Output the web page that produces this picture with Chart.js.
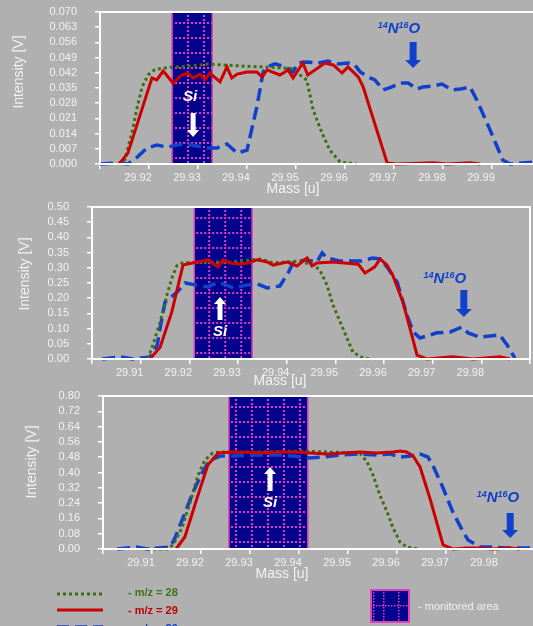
<!DOCTYPE html>
<html><head><meta charset="utf-8">
<script src="https://cdn.jsdelivr.net/npm/chart.js@4.4.0/dist/chart.umd.min.js"></script>
<style>
html,body{margin:0;padding:0;background:#b0b0b0;width:533px;height:626px;overflow:hidden;}
body{position:relative;font-family:"Liberation Sans",Arial,sans-serif;}
canvas{position:absolute;left:0;}
.t{position:absolute;color:#f2f2f2;font-size:14px;white-space:nowrap;line-height:1;}
.ty{transform:translate(-50%,-50%) rotate(-90deg);}
.tx{transform:translate(-50%,-50%);}
.lg{position:absolute;font-size:11px;font-weight:bold;white-space:nowrap;line-height:1;transform:translateY(-50%);}
</style></head><body>
<canvas id="cTop"></canvas>
<canvas id="cMid"></canvas>
<canvas id="cBot"></canvas>
<div class="t ty" style="left:18px;top:72px;">Intensity [V]</div>
<div class="t tx" style="left:293px;top:188px;">Mass [u]</div>
<div class="t ty" style="left:24px;top:274px;">Intensity [V]</div>
<div class="t tx" style="left:280px;top:380px;">Mass [u]</div>
<div class="t ty" style="left:31px;top:462px;">Intensity [V]</div>
<div class="t tx" style="left:282px;top:573px;">Mass [u]</div>
<svg style="position:absolute;left:0;top:580px;" width="533" height="60">
  <line x1="57" y1="14" x2="103" y2="14" stroke="#3d6e14" stroke-width="3" stroke-dasharray="3,3"/>
  <line x1="57" y1="30" x2="103" y2="30" stroke="#cc0000" stroke-width="3"/>
  <line x1="57" y1="47" x2="103" y2="47" stroke="#1040cc" stroke-width="3.5" stroke-dasharray="12,6"/>
</svg>
<div class="lg" style="left:128px;top:592px;color:#3f7415;">- m/z = 28</div>
<div class="lg" style="left:128px;top:610px;color:#c00000;">- m/z = 29</div>
<div class="lg" style="left:128px;top:628px;color:#1040cc;">- m/z = 30</div>
<canvas id="swatch" width="40" height="34" style="left:370px;top:589px;"></canvas>
<div class="lg" style="left:418px;top:606px;color:#f0f0f0;font-weight:normal;">- monitored area</div>
<script>
// ---------------- DATA ----------------
// Top panel
const xTicksTop = [29.91,29.92,29.93,29.94,29.95,29.96,29.97,29.98,29.99,30.00];
const xLabelsTop = ['','29.92','29.93','29.94','29.95','29.96','29.97','29.98','29.99',''];
const yTicksTop = [0,0.007,0.014,0.021,0.028,0.035,0.042,0.049,0.056,0.063,0.070];
const yLabelsTop = ['0.000','0.007','0.014','0.021','0.028','0.035','0.042','0.049','0.056','0.063','0.070'];
const mTop28 = [29.9137,29.9151,29.9165,29.9176,29.9186,29.9198,29.9212,29.9240,29.9280,29.9320,29.9360,29.9400,29.9450,29.9490,29.9522,29.9535,29.9553,29.9569,29.9590,29.9624];
const iTop28 = [0,0.002,0.0143,0.0262,0.0355,0.041,0.0435,0.0445,0.045,0.046,0.0455,0.045,0.0445,0.044,0.0387,0.0249,0.0143,0.0064,0.0009,0];
const mTop29 = [29.9139,29.9157,29.9206,29.9216,29.9229,29.9249,29.9267,29.9280,29.9290,29.9304,29.9314,29.9324,29.9345,29.9359,29.9369,29.9380,29.9400,29.9420,29.9431,29.9441,29.9451,29.9467,29.9484,29.9494,29.9514,29.9524,29.9559,29.9576,29.9594,29.9606,29.9627,29.9637,29.9686,29.9706,29.9753,29.9780,29.9808,29.9855,29.9876];
const iTop29 = [0,0.005,0.0396,0.0387,0.0428,0.0373,0.0410,0.0419,0.0396,0.0414,0.0387,0.0419,0.0378,0.0447,0.0396,0.0414,0.0424,0.0424,0.0401,0.0433,0.0424,0.0410,0.0433,0.0396,0.0465,0.0410,0.0465,0.0456,0.0419,0.0447,0.0401,0.0355,0.0005,0,0.0003,0.0006,0,0.0006,0];
const mTop30 = [29.9100,29.9139,29.9157,29.9176,29.9196,29.9216,29.9237,29.9257,29.9278,29.9298,29.9318,29.9339,29.9359,29.9380,29.9400,29.9420,29.9433,29.9441,29.9457,29.9478,29.9494,29.9504,29.9522,29.9545,29.9565,29.9586,29.9606,29.9620,29.9631,29.9647,29.9661,29.9678,29.9696,29.9712,29.9729,29.9747,29.9759,29.9780,29.9798,29.9818,29.9835,29.9855,29.9869,29.9896,29.9922,29.9937,29.9963,29.9984];
const iTop30 = [0,0.0005,0,0.0032,0.0074,0.0087,0.0078,0.0087,0.0092,0.0083,0.0074,0.0074,0.0092,0.0051,0.0064,0.0262,0.0424,0.0447,0.0461,0.0447,0.0424,0.0465,0.0470,0.0465,0.0474,0.0461,0.0465,0.0456,0.0424,0.0401,0.0387,0.0341,0.0355,0.0373,0.0373,0.0345,0.0355,0.0359,0.0368,0.0341,0.0345,0.0355,0.0295,0.0157,0.0018,0,0.0005,0.0009];
const bandTop = [29.9247,29.9329];

// Middle panel
const xTicksMid = [29.90,29.91,29.92,29.93,29.94,29.95,29.96,29.97,29.98,29.99];
const xLabelsMid = ['','29.91','29.92','29.93','29.94','29.95','29.96','29.97','29.98',''];
const yTicksMid = [0,0.05,0.10,0.15,0.20,0.25,0.30,0.35,0.40,0.45,0.50];
const yLabelsMid = ['0.00','0.05','0.10','0.15','0.20','0.25','0.30','0.35','0.40','0.45','0.50'];
const mMid28 = [29.9115,29.9125,29.9140,29.9154,29.9164,29.9175,29.9185,29.9222,29.9284,29.9345,29.9372,29.9401,29.9427,29.9454,29.9468,29.9483,29.9495,29.9510,29.9524,29.9536,29.9557,29.9575];
const iMid28 = [0,0.046,0.122,0.211,0.266,0.309,0.316,0.319,0.319,0.329,0.316,0.319,0.322,0.309,0.293,0.243,0.178,0.122,0.069,0.023,0.003,0];
const mMid29 = [29.9119,29.9140,29.9164,29.9187,29.9216,29.9238,29.9259,29.9269,29.9284,29.9304,29.9321,29.9339,29.9360,29.9372,29.9401,29.9421,29.9442,29.9452,29.9462,29.9495,29.9547,29.9561,29.9581,29.9592,29.9606,29.9618,29.9639,29.9668,29.9688,29.9740,29.9783,29.9838,29.9859];
const iMid29 = [0,0.039,0.155,0.309,0.319,0.326,0.303,0.326,0.316,0.312,0.316,0.326,0.319,0.309,0.319,0.306,0.332,0.306,0.316,0.319,0.312,0.283,0.303,0.329,0.309,0.276,0.187,0.013,0,0.007,0,0.007,0];
const mMid30 = [29.9021,29.9058,29.9084,29.9119,29.9134,29.9140,29.9150,29.9175,29.9191,29.9216,29.9238,29.9259,29.9290,29.9318,29.9339,29.9360,29.9386,29.9403,29.9413,29.9438,29.9462,29.9473,29.9483,29.9510,29.9551,29.9577,29.9592,29.9606,29.9627,29.9647,29.9660,29.9674,29.9709,29.9736,29.9760,29.9773,29.9797,29.9838,29.9853,29.9869];
const iMid30 = [0,0.007,0,0.007,0.046,0.102,0.187,0.220,0.250,0.243,0.237,0.253,0.234,0.243,0.247,0.234,0.240,0.283,0.316,0.326,0.319,0.349,0.332,0.322,0.322,0.332,0.329,0.303,0.253,0.145,0.089,0.069,0.086,0.089,0.105,0.086,0.072,0.079,0.046,0.003];
const bandMid = [29.9210,29.9329];

// Bottom panel
const xTicksBot = [29.90,29.91,29.92,29.93,29.94,29.95,29.96,29.97,29.98,29.99];
const xLabelsBot = ['','29.91','29.92','29.93','29.94','29.95','29.96','29.97','29.98',''];
const yTicksBot = [0,0.08,0.16,0.24,0.32,0.40,0.48,0.56,0.64,0.72,0.80];
const yLabelsBot = ['0.00','0.08','0.16','0.24','0.32','0.40','0.48','0.56','0.64','0.72','0.80'];
const mBot28 = [29.9090,29.9131,29.9143,29.9161,29.9178,29.9194,29.9208,29.9224,29.9239,29.9320,29.9402,29.9463,29.9524,29.9539,29.9551,29.9565,29.9580,29.9592,29.9606,29.9620,29.9643];
const iBot28 = [0,0,0.021,0.110,0.246,0.387,0.465,0.502,0.507,0.507,0.512,0.507,0.502,0.455,0.387,0.282,0.193,0.110,0.037,0.010,0];
const mBot29 = [29.9149,29.9167,29.9192,29.9214,29.9235,29.9265,29.9335,29.9355,29.9388,29.9422,29.9457,29.9490,29.9524,29.9559,29.9592,29.9606,29.9620,29.9633,29.9647,29.9667,29.9694,29.9714,29.9743,29.9769,29.9796,29.9831,29.9851];
const iBot29 = [0,0.063,0.267,0.439,0.502,0.507,0.502,0.507,0.507,0.502,0.497,0.502,0.507,0.502,0.507,0.512,0.507,0.486,0.429,0.267,0.021,0,0.005,0.005,0,0.005,0];
const mBot30 = [29.9029,29.9069,29.9090,29.9137,29.9147,29.9163,29.9184,29.9202,29.9218,29.9239,29.9265,29.9306,29.9355,29.9388,29.9422,29.9449,29.9490,29.9524,29.9559,29.9586,29.9606,29.9627,29.9647,29.9663,29.9673,29.9694,29.9714,29.9735,29.9745,29.9769,29.9796,29.9824,29.9851,29.9878];
const iBot30 = [0,0.010,0,0.010,0.058,0.162,0.298,0.397,0.465,0.486,0.486,0.492,0.492,0.486,0.476,0.481,0.492,0.497,0.492,0.497,0.481,0.486,0.497,0.481,0.439,0.319,0.193,0.089,0.047,0.010,0.010,0.005,0.005,0.005];
const bandBot = [29.9257,29.9418];

// ---------------- STYLE ----------------
const FONT = '"Liberation Sans", Arial, sans-serif';
const TXT = '#f2f2f2';
const C28 = '#3d6e14', C29 = '#cc0000', C30 = '#1040cc';
const NAVY = '#02028c', PINK = '#e040b8';
const PT = 26; // canvas top padding (>= y label overflow)

function pts(m, v){ const n=Math.min(m.length,v.length); const r=[]; for(let k=0;k<n;k++) r.push({x:m[k],y:v[k]}); return r; }

// band pattern
const pc = document.createElement('canvas'); pc.width=16; pc.height=15;
(function(){ const g=pc.getContext('2d'); g.fillStyle=NAVY; g.fillRect(0,0,16,15); g.fillStyle=PINK;
  for(let i=0;i<16;i+=4) g.fillRect(i,0,2,2);
  for(let j=0;j<15;j+=4) g.fillRect(0,j,2,2);
})();

function arrow(ctx, x, y1, y2, sw, hw, hl, col){
  const d = y2>y1?1:-1;
  const yb = y2 - d*hl;
  ctx.beginPath();
  ctx.moveTo(x-sw/2,y1); ctx.lineTo(x+sw/2,y1); ctx.lineTo(x+sw/2,yb); ctx.lineTo(x+hw/2,yb);
  ctx.lineTo(x,y2); ctx.lineTo(x-hw/2,yb); ctx.lineTo(x-sw/2,yb); ctx.closePath();
  ctx.fillStyle=col; ctx.fill();
}
function noText(ctx, cx, cy){
  const parts=[['14',9,-5],['N',15,0],['16',9,-5],['O',15,0]];
  let w=0; parts.forEach(p=>{ctx.font='italic bold '+p[1]+'px '+FONT; w+=ctx.measureText(p[0]).width;});
  let x=cx-w/2; ctx.fillStyle=C30; ctx.textBaseline='alphabetic';
  parts.forEach(p=>{ctx.font='italic bold '+p[1]+'px '+FONT; ctx.fillText(p[0],x,cy+5+p[2]); x+=ctx.measureText(p[0]).width;});
}

const extras = {
  id:'extras',
  beforeDatasetsDraw(chart, args, o){
    const {ctx, chartArea:a, scales:{x}} = chart;
    const x1=x.getPixelForValue(o.band[0]), x2=x.getPixelForValue(o.band[1]);
    ctx.save();
    const pat=ctx.createPattern(pc,'repeat');
    pat.setTransform(new DOMMatrix([1,0,0,1,x1+o.po[0],a.top+o.po[1]]));
    ctx.fillStyle=pat; ctx.fillRect(x1,a.top,x2-x1,a.bottom-a.top);
    ctx.strokeStyle=PINK; ctx.lineWidth=1.5; ctx.beginPath();
    ctx.moveTo(x1,a.top); ctx.lineTo(x1,a.bottom); ctx.moveTo(x2,a.top); ctx.lineTo(x2,a.bottom); ctx.stroke();
    ctx.restore();
  },
  afterDatasetsDraw(chart, args, o){
    const {ctx, chartArea:a, scales:{x,y}} = chart;
    ctx.save();
    ctx.strokeStyle='#ffffff'; ctx.lineWidth=2;
    ctx.strokeRect(a.left,a.top,a.right-a.left,a.bottom-a.top);
    arrow(ctx, x.getPixelForValue(o.siArrow[0]), y.getPixelForValue(o.siArrow[1]), y.getPixelForValue(o.siArrow[2]), 5, 12, 7, '#ffffff');
    ctx.font='italic bold 15px '+FONT; ctx.fillStyle='#ffffff'; ctx.textAlign='center'; ctx.textBaseline='middle';
    ctx.fillText('Si', x.getPixelForValue(o.si[0]), y.getPixelForValue(o.si[1]));
    ctx.textAlign='left';
    arrow(ctx, x.getPixelForValue(o.noArrow[0]), y.getPixelForValue(o.noArrow[1]), y.getPixelForValue(o.noArrow[2]), 7, 16, 8, C30);
    noText(ctx, x.getPixelForValue(o.no[0]), y.getPixelForValue(o.no[1]));
    ctx.restore();
  }
};

function make(id, plotTop, w, plotH, xH, padR, yW, xr, yr, xt, xl, yt, yl, s28, s29, s30, ann){
  const el=document.getElementById(id);
  el.width=w; el.height=PT+plotH+xH;
  el.style.top=(plotTop-PT)+'px';
  return new Chart(el, {
    type:'line',
    data:{datasets:[
      {data:s29, borderColor:C29, borderWidth:3, pointRadius:0, tension:0, fill:false, order:1, clip:4},
      {data:s28, borderColor:C28, borderWidth:3, borderDash:[3,3], pointRadius:0, tension:0, fill:false, order:2, clip:4},
      {data:s30, borderColor:C30, borderWidth:3.5, borderDash:[13,6], pointRadius:0, tension:0, fill:false, order:3, clip:4}
    ]},
    options:{
      responsive:false, animation:false, devicePixelRatio:1,
      layout:{padding:{left:0, top:PT, right:padR, bottom:0}},
      plugins:{legend:{display:false}, tooltip:{enabled:false}, extras:ann},
      scales:{
        x:{type:'linear', min:xr[0], max:xr[1],
          afterBuildTicks:s=>{s.ticks=xt.map(v=>({value:v}));},
          afterFit:s=>{s.height=xH;},
          grid:{drawOnChartArea:false, drawTicks:true, tickLength:5, color:'#ffffff', lineWidth:1.5},
          border:{display:false},
          ticks:{color:TXT, font:{family:FONT,size:11}, padding:2, labelOffset:-11, maxRotation:0, autoSkip:false,
            callback:(v,i)=>xl[i]}},
        y:{type:'linear', min:yr[0], max:yr[1],
          afterBuildTicks:s=>{s.ticks=yt.map(v=>({value:v}));},
          afterFit:s=>{s.width=yW;},
          grid:{drawOnChartArea:false, drawTicks:true, tickLength:5, color:'#ffffff', lineWidth:1.5},
          border:{display:false},
          ticks:{color:TXT, font:{family:FONT,size:11}, padding:18, autoSkip:false,
            callback:(v,i)=>yl[i]}}
      }
    },
    plugins:[extras]
  });
}

make('cTop', 12, 560, 152, 32, 19, 100, [29.91,30.00], [0,0.070],
  xTicksTop, xLabelsTop, yTicksTop, yLabelsTop, pts(mTop28,iTop28), pts(mTop29,iTop29), pts(mTop30,iTop30),
  {band:bandTop, po:[15,10], si:[29.9284,0.0309], siArrow:[29.9290,0.0235,0.0124], no:[29.9710,0.0626], noArrow:[29.9739,0.0562,0.0442]});

make('cMid', 207, 533, 152, 31, 3, 92, [29.90,29.99], [0,0.50],
  xTicksMid, xLabelsMid, yTicksMid, yLabelsMid, pts(mMid28,iMid28), pts(mMid29,iMid29), pts(mMid30,iMid30),
  {band:bandMid, po:[14,10], si:[29.9263,0.089], siArrow:[29.9263,0.128,0.204], no:[29.9725,0.266], noArrow:[29.9764,0.227,0.138]});

make('cBot', 396, 560, 153, 26, 16, 103, [29.90,29.99], [0,0.80],
  xTicksBot, xLabelsBot, yTicksBot, yLabelsBot, pts(mBot28,iBot28), pts(mBot29,iBot29), pts(mBot30,iBot30),
  {band:bandBot, po:[6,10], si:[29.9341,0.241], siArrow:[29.9341,0.303,0.429], no:[29.9806,0.272], noArrow:[29.9831,0.188,0.058]});

// legend swatch
(function(){ const g=document.getElementById('swatch').getContext('2d');
  g.fillStyle=NAVY; g.fillRect(0,0,40,34); g.fillStyle=PINK;
  for(let i=0;i<40;i+=3){ g.fillRect(i,16,1.5,1.5); }
  for(let j=0;j<34;j+=3){ g.fillRect(13,j,1.5,1.5); g.fillRect(28,j,1.5,1.5); g.fillRect(3,j,1.5,1.5);}
  g.strokeStyle=PINK; g.lineWidth=2; g.strokeRect(1,1,38,32);
})();
</script>
</body></html>
